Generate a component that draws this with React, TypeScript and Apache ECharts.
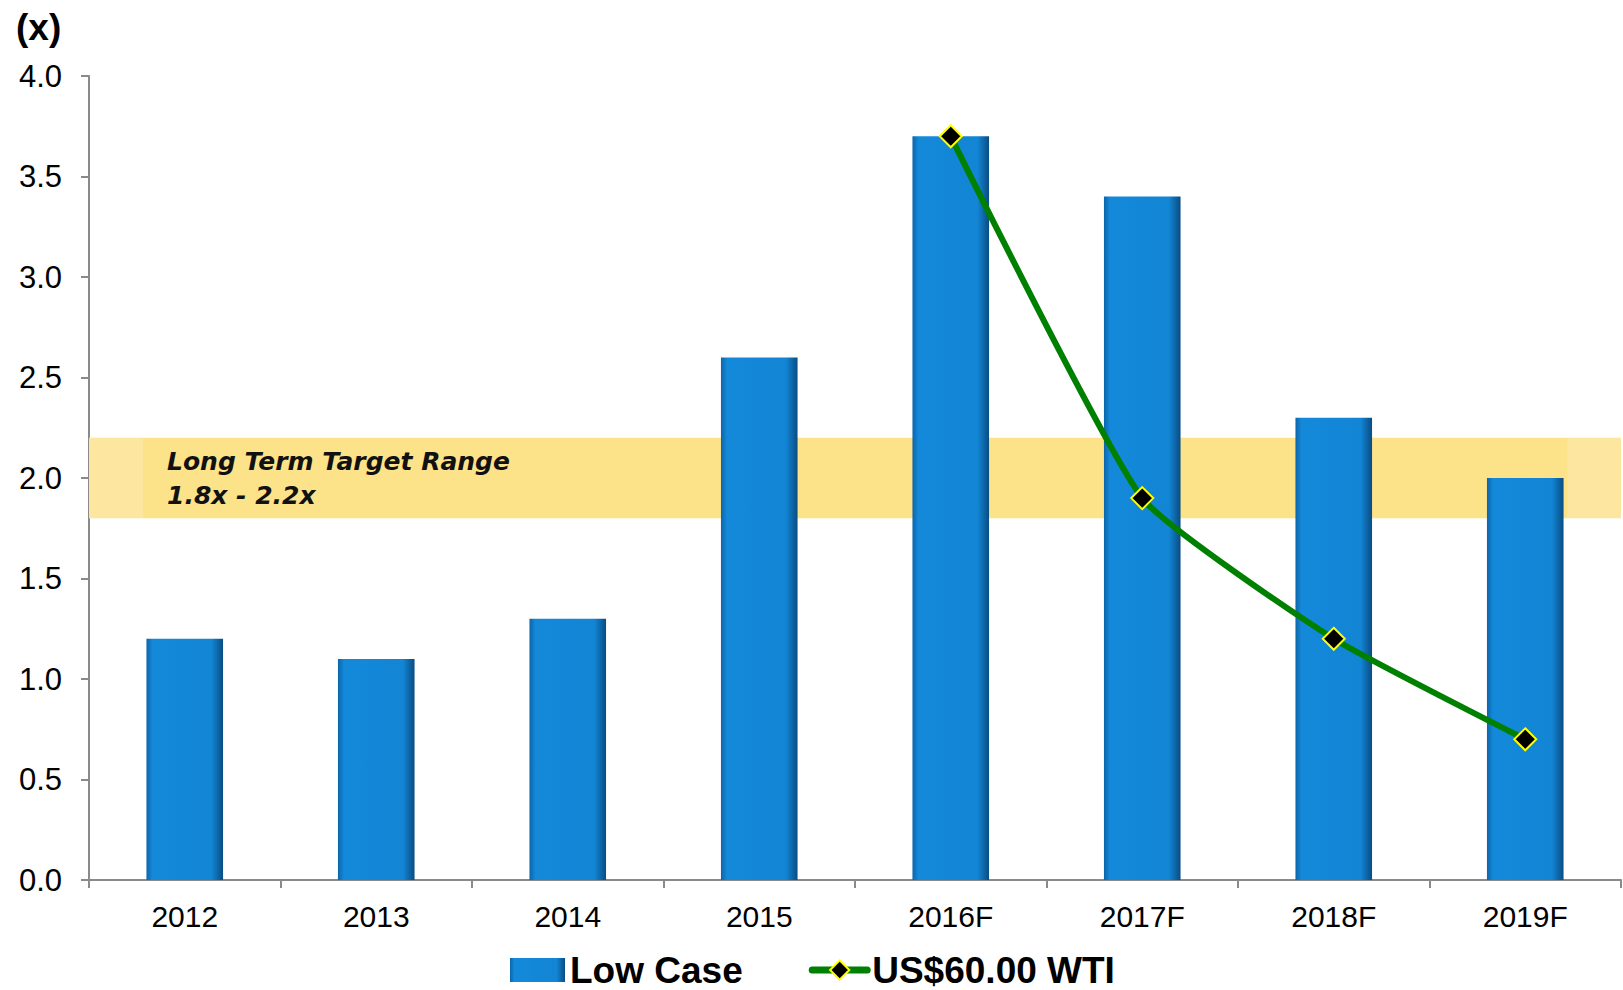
import React, { useEffect, useRef } from "react";
import * as echarts from "echarts";

const categories = ["2012", "2013", "2014", "2015", "2016F", "2017F", "2018F", "2019F"];
const lowCase = [1.2, 1.1, 1.3, 2.6, 3.7, 3.4, 2.3, 2.0];
const wti60 = [null, null, null, null, 3.7, 1.9, 1.2, 0.7];
const targetRange = [1.8, 2.2];
const yTicks = { min: 0, max: 4, interval: 0.5 };

export default function App() {
  const ref = useRef<HTMLDivElement>(null);
  useEffect(() => {
    if (!ref.current) return;
    const chart = echarts.init(ref.current, undefined, { renderer: "svg" });
    const barColor = new echarts.graphic.LinearGradient(0, 0, 1, 0, [
      { offset: 0, color: "#0C65AA" },
      { offset: 0.08, color: "#1489DA" },
      { offset: 0.85, color: "#1285D4" },
      { offset: 1, color: "#0A4C82" },
    ]);
    const bandColor = new echarts.graphic.LinearGradient(0, 0, 1, 0, [
      { offset: 0, color: "#FCE6A0" },
      { offset: 0.035, color: "#FCE6A0" },
      { offset: 0.0351, color: "#FCE289" },
      { offset: 0.965, color: "#FCE289" },
      { offset: 0.9651, color: "#FCE6A0" },
      { offset: 1, color: "#FCE6A0" },
    ]);
    chart.setOption({
      animation: false,
      backgroundColor: "#ffffff",
      title: {
        text: "(x)",
        left: 11,
        top: 4,
        textStyle: { fontFamily: "Liberation Sans", fontWeight: "bold", fontSize: 37, color: "#000" },
      },
      grid: { left: 89, right: 2, top: 76, bottom: 110, containLabel: false },
      legend: {
        left: 510,
        top: 950,
        itemWidth: 55,
        itemHeight: 24,
        itemGap: 66,
        padding: 0,
        textStyle: { fontFamily: "Liberation Sans", fontWeight: "bold", fontSize: 37, color: "#000", lineHeight: 40 },
        data: [
          { name: "Low Case", icon: "rect" },
          { name: "US$60.00 WTI", lineStyle: { width: 7, color: "#008000", cap: "round" } },
        ],
      },
      xAxis: {
        type: "category",
        data: categories,
        axisLine: { lineStyle: { color: "#8A8A8A", width: 2 } },
        axisTick: { show: true, length: 8, lineStyle: { color: "#8A8A8A", width: 2 } },
        axisLabel: { fontFamily: "Liberation Sans", fontSize: 30, color: "#000", margin: 21 },
      },
      yAxis: {
        type: "value",
        min: yTicks.min,
        max: yTicks.max,
        interval: yTicks.interval,
        splitLine: { show: false },
        axisLine: { show: true, lineStyle: { color: "#8A8A8A", width: 2 } },
        axisTick: { show: true, length: 8, lineStyle: { color: "#8A8A8A", width: 2 } },
        axisLabel: {
          fontFamily: "Liberation Sans",
          fontSize: 31,
          color: "#000",
          margin: 27,
          formatter: (v: number) => v.toFixed(1),
        },
      },
      series: [
        {
          name: "Low Case",
          type: "bar",
          data: lowCase,
          barWidth: "40%",
          itemStyle: { color: barColor },
          z: 3,
          markArea: {
            silent: true,
            z: 1,
            itemStyle: { color: bandColor },
            label: {
              show: true,
              position: "insideLeft",
              distance: 78,
              formatter: "Long Term Target Range\n1.8x - 2.2x",
              fontFamily: "DejaVu Sans",
              fontStyle: "italic",
              fontWeight: "bold",
              fontSize: 25,
              lineHeight: 34,
              color: "#111",
            },
            data: [[{ yAxis: targetRange[0] }, { yAxis: targetRange[1] }]],
          },
        },
        {
          name: "US$60.00 WTI",
          type: "line",
          data: wti60,
          smooth: 0.15,
          z: 5,
          symbol: "diamond",
          symbolSize: 22,
          lineStyle: { color: "#008000", width: 6 },
          itemStyle: { color: "#000000", borderColor: "#FFFF00", borderWidth: 2 },
        },
      ],
    });
    return () => chart.dispose();
  }, []);
  return (
    <div
      ref={ref}
      style={{ position: "absolute", left: 0, top: 0, width: 1623, height: 990 }}
    />
  );
}
